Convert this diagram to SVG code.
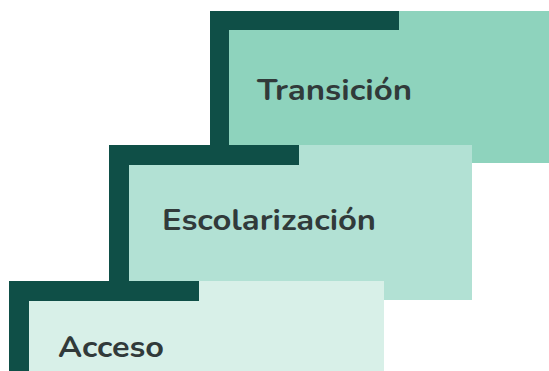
<svg xmlns="http://www.w3.org/2000/svg" width="549" height="371" viewBox="0 0 549 371">
<style>
.bar{fill:#0f4f47}
.lbl{font-family:"Nunito","Open Sans","Noto Sans",sans-serif;font-weight:700;font-size:29px;fill:#313a3a}
</style>
<rect width="549" height="371" fill="#ffffff"/>
<g id="transicion">
<rect x="210" y="11" width="345" height="152" fill="#8ed3bd"/>
<rect class="bar" x="210" y="11" width="189" height="19"/>
<rect class="bar" x="210" y="11" width="19" height="140"/>
<text class="lbl" x="257" y="100" textLength="155" lengthAdjust="spacingAndGlyphs">Transición</text>
</g>
<g id="escolarizacion">
<rect x="109" y="145" width="363" height="155" fill="#b2e1d4"/>
<rect class="bar" x="109" y="145" width="190" height="20"/>
<rect class="bar" x="109" y="145" width="20" height="140"/>
<text class="lbl" x="162" y="230" textLength="214" lengthAdjust="spacingAndGlyphs">Escolarización</text>
</g>
<g id="acceso">
<rect x="9" y="281" width="375" height="95" fill="#d8f0e8"/>
<rect class="bar" x="9" y="281" width="190" height="20"/>
<rect class="bar" x="9" y="281" width="20" height="95"/>
<text class="lbl" x="58" y="357" textLength="106" lengthAdjust="spacingAndGlyphs">Acceso</text>
</g>
<g id="connectors"/>
</svg>
